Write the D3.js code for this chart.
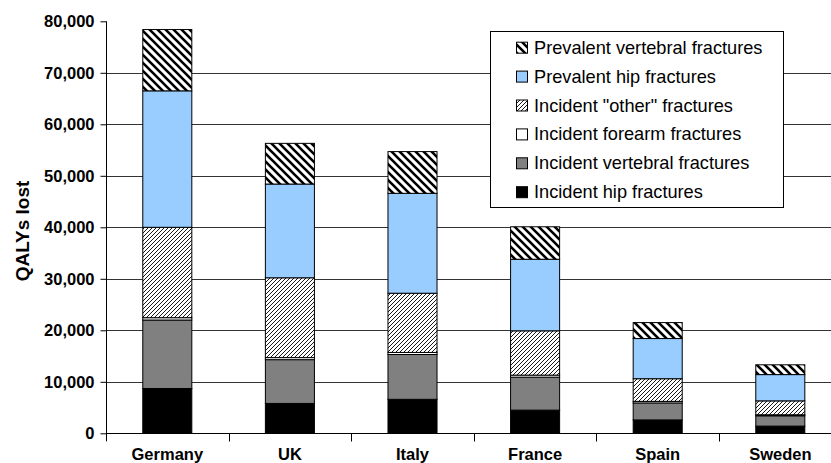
<!DOCTYPE html>
<html>
<head>
<meta charset="utf-8">
<script src="https://cdn.jsdelivr.net/npm/d3@7"></script>
<style>
  html, body { margin: 0; padding: 0; background: #fff; }
  svg { display: block; }
  text { font-family: "Liberation Sans", Arial, Helvetica, sans-serif; }
</style>
</head>
<body>
<svg id="chart" width="831" height="463"></svg>
<script>
// ---- data ----
const countries = ["Germany", "UK", "Italy", "France", "Spain", "Sweden"];
const incidentHip       = [8700, 5800, 6600, 4500, 2600, 1400];
const incidentVertebral = [13300, 8500, 8700, 6400, 3300, 2000];
const incidentForearm   = [450, 400, 400, 400, 300, 200];
const incidentOther     = [17550, 15500, 11500, 8600, 4400, 2700];
const prevalentHip      = [26500, 18200, 19400, 13900, 7800, 5100];
const prevalentVertebral= [11900, 7900, 8100, 6300, 3100, 1900];
const seriesNames = ["Incident hip fractures", "Incident vertebral fractures", "Incident forearm fractures",
                     "Incident \"other\" fractures", "Prevalent hip fractures", "Prevalent vertebral fractures"];
const yTicks = [0, 10000, 20000, 30000, 40000, 50000, 60000, 70000, 80000];
const yTitle = "QALYs lost";

// ---- build table ----
const seriesArrays = [incidentHip, incidentVertebral, incidentForearm, incidentOther, prevalentHip, prevalentVertebral];
const table = countries.map((c, i) => {
  const row = { country: c };
  seriesNames.forEach((s, k) => row[s] = seriesArrays[k][i]);
  return row;
});
const stacked = d3.stack().keys(seriesNames)(table);

const svg = d3.select("#chart");
const plotLeft = 106, plotRight = 841.6, plotTop = 21.3, plotBottom = 433.3;

const defs = svg.append("defs");
// wide "\" stripes
const pv = defs.append("pattern").attr("id", "pPrevVert").attr("patternUnits", "userSpaceOnUse")
  .attr("width", 8).attr("height", 8);
pv.append("rect").attr("width", 8).attr("height", 8).attr("fill", "#fff");
pv.append("path").attr("d", "M-2,-2 L10,10 M-2,6 L2,10 M6,-2 L10,2")
  .attr("stroke", "#000").attr("stroke-width", 2.6);
// fine "/" stripes
const po = defs.append("pattern").attr("id", "pOther").attr("patternUnits", "userSpaceOnUse")
  .attr("width", 4).attr("height", 4);
po.append("rect").attr("width", 4).attr("height", 4).attr("fill", "#fff");
po.append("path").attr("d", "M-1,5 L5,-1 M-1,1 L1,-1 M3,5 L5,3")
  .attr("stroke", "#000").attr("stroke-width", 0.9);

const fills = {
  "Incident hip fractures": "#000000",
  "Incident vertebral fractures": "#808080",
  "Incident forearm fractures": "#ffffff",
  "Incident \"other\" fractures": "url(#pOther)",
  "Prevalent hip fractures": "#99ccff",
  "Prevalent vertebral fractures": "url(#pPrevVert)"
};

const x = d3.scaleBand().domain(countries).range([plotLeft, plotRight]).padding(0);
const y = d3.scaleLinear().domain([0, 80000]).range([plotBottom, plotTop]);

// gridlines
svg.append("g").selectAll("line").data(yTicks.filter(t => t > 0 && t < 80000)).join("line")
  .attr("x1", plotLeft).attr("x2", 831)
  .attr("y1", d => Math.round(y(d)) + 0.5).attr("y2", d => Math.round(y(d)) + 0.5)
  .attr("stroke", "#333").attr("stroke-width", 1);

// bars
const barW = x.step() * 0.4;
const g = svg.append("g");
stacked.forEach(layer => {
  g.append("g").selectAll("rect").data(layer).join("rect")
    .attr("x", d => x(d.data.country) + (x.step() - barW) / 2)
    .attr("y", d => y(d[1]))
    .attr("width", barW)
    .attr("height", d => y(d[0]) - y(d[1]))
    .attr("fill", fills[layer.key])
    .attr("stroke", "#000").attr("stroke-width", 1);
});

// y axis
const yAxis = svg.append("g").attr("transform", `translate(${plotLeft + 0.5},0)`)
  .call(d3.axisLeft(y).tickValues(yTicks).tickFormat(d3.format(",")).tickSize(6).tickPadding(6));
yAxis.select(".domain").attr("d", `M0,${y(80000)}V${plotBottom + 8}`).attr("stroke", "#000");
yAxis.selectAll(".tick line").attr("stroke", "#000");
yAxis.selectAll("text").attr("font-size", 16.5).attr("font-weight", "bold").attr("fill", "#000")
  .style("font-family", "'Liberation Sans', Arial, sans-serif");

// x axis
const xAxis = svg.append("g").attr("transform", `translate(0,${Math.round(plotBottom) + 0.5})`)
  .call(d3.axisBottom(x).tickSize(0).tickPadding(15));
xAxis.select(".domain").attr("d", `M${plotLeft},0H831`).attr("stroke", "#000");
xAxis.selectAll("text").attr("font-size", 16.5).attr("font-weight", "bold").attr("fill", "#000")
  .style("font-family", "'Liberation Sans', Arial, sans-serif");
// boundary ticks
xAxis.append("g").selectAll("line").data(countries.slice(1)).join("line")
  .attr("x1", d => Math.round(x(d)) + 0.5).attr("x2", d => Math.round(x(d)) + 0.5)
  .attr("y1", 0).attr("y2", 8).attr("stroke", "#000");

// y title
svg.append("text").attr("transform", "translate(28.5,231) rotate(-90)")
  .attr("text-anchor", "middle").attr("font-size", 19).attr("font-weight", "bold").text(yTitle);

// legend
const lg = svg.append("g");
lg.append("rect").attr("x", 490.5).attr("y", 31.5).attr("width", 293).attr("height", 176)
  .attr("fill", "#fff").attr("stroke", "#000");
const legendOrder = seriesNames.slice().reverse();
legendOrder.forEach((s, i) => {
  const by = 53.7 + i * 28.9;
  lg.append("rect").attr("x", 516.5).attr("y", by - 11.5).attr("width", 11).attr("height", 11)
    .attr("fill", fills[s]).attr("stroke", "#000");
  lg.append("text").attr("x", 534).attr("y", by).attr("font-size", 18.2).attr("fill", "#000").text(s);
});
</script>
</body>
</html>
